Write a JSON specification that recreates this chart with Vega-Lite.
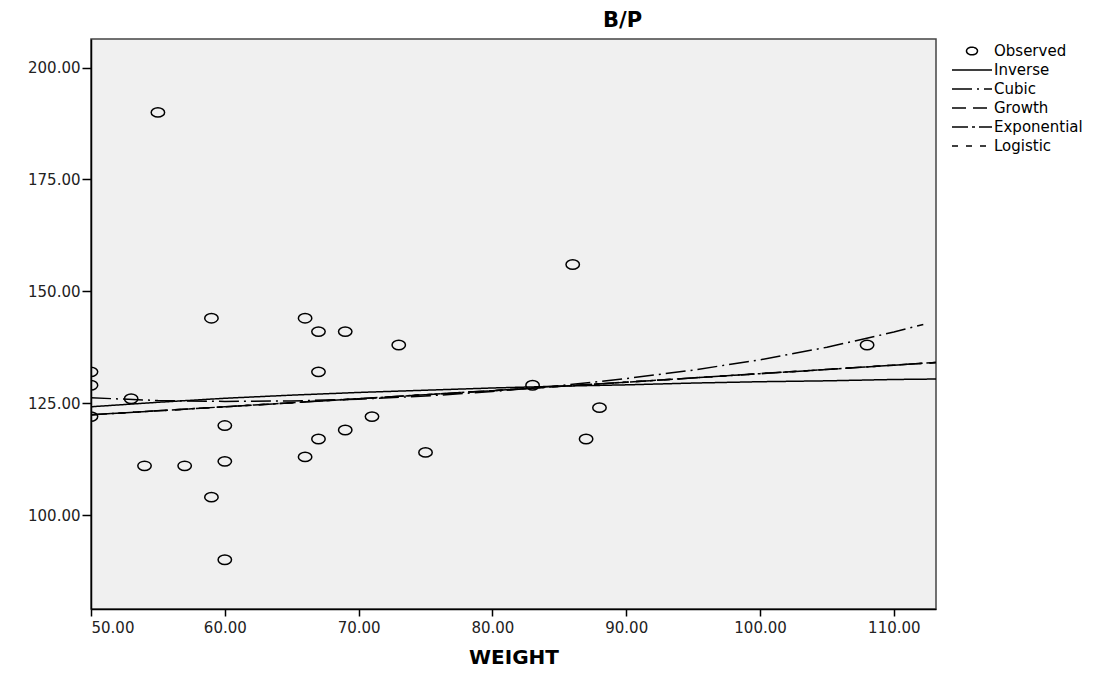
{
  "$schema": "https://vega.github.io/schema/vega-lite/v6.json",
  "autosize": "none",
  "width": 845,
  "height": 570,
  "padding": {"left": 91, "top": 39, "right": 177, "bottom": 64},
  "background": "white",
  "title": {"text": "B/P", "fontSize": 21, "fontWeight": "bold", "font": "DejaVu Sans", "color": "black", "anchor": "middle", "dx": 109, "offset": 8},
  "config": {
    "view": {"fill": "#F0F0F0", "stroke": "#444444", "strokeWidth": 1.5},
    "axis": {"grid": false, "domainColor": "black", "domainWidth": 1.5, "tickColor": "black", "tickWidth": 1.5, "labelFont": "DejaVu Sans", "labelFontSize": 15, "labelColor": "#222222", "titleFont": "DejaVu Sans"}
  },
  "datasets": {
    "obs": [
      {"weight": 50, "bp": 132}, {"weight": 50, "bp": 129}, {"weight": 50, "bp": 122},
      {"weight": 53, "bp": 126}, {"weight": 54, "bp": 111}, {"weight": 55, "bp": 190},
      {"weight": 57, "bp": 111}, {"weight": 59, "bp": 144}, {"weight": 59, "bp": 104},
      {"weight": 60, "bp": 120}, {"weight": 60, "bp": 112}, {"weight": 60, "bp": 90},
      {"weight": 66, "bp": 144}, {"weight": 66, "bp": 113}, {"weight": 67, "bp": 141},
      {"weight": 67, "bp": 132}, {"weight": 67, "bp": 117}, {"weight": 69, "bp": 141},
      {"weight": 69, "bp": 119}, {"weight": 71, "bp": 122}, {"weight": 73, "bp": 138},
      {"weight": 75, "bp": 114}, {"weight": 83, "bp": 129}, {"weight": 86, "bp": 156},
      {"weight": 87, "bp": 117}, {"weight": 88, "bp": 124}, {"weight": 108, "bp": 138}
    ],
    "fits": [
      {"series": "Inverse", "weight": 50, "bp": 124.2}, {"series": "Inverse", "weight": 55, "bp": 125.2}, {"series": "Inverse", "weight": 60, "bp": 126.1}, {"series": "Inverse", "weight": 65, "bp": 126.8}, {"series": "Inverse", "weight": 70, "bp": 127.4}, {"series": "Inverse", "weight": 75, "bp": 127.9}, {"series": "Inverse", "weight": 80, "bp": 128.4}, {"series": "Inverse", "weight": 85, "bp": 128.8}, {"series": "Inverse", "weight": 90, "bp": 129.1}, {"series": "Inverse", "weight": 95, "bp": 129.5}, {"series": "Inverse", "weight": 100, "bp": 129.8}, {"series": "Inverse", "weight": 105, "bp": 130.0}, {"series": "Inverse", "weight": 110, "bp": 130.3}, {"series": "Inverse", "weight": 113.15, "bp": 130.4},
      {"series": "Cubic", "weight": 50, "bp": 126.2}, {"series": "Cubic", "weight": 55, "bp": 125.6}, {"series": "Cubic", "weight": 60, "bp": 125.4}, {"series": "Cubic", "weight": 65, "bp": 125.5}, {"series": "Cubic", "weight": 70, "bp": 125.9}, {"series": "Cubic", "weight": 75, "bp": 126.6}, {"series": "Cubic", "weight": 80, "bp": 127.6}, {"series": "Cubic", "weight": 85, "bp": 128.9}, {"series": "Cubic", "weight": 90, "bp": 130.5}, {"series": "Cubic", "weight": 95, "bp": 132.4}, {"series": "Cubic", "weight": 100, "bp": 134.7}, {"series": "Cubic", "weight": 105, "bp": 137.5}, {"series": "Cubic", "weight": 110, "bp": 140.9}, {"series": "Cubic", "weight": 112.2, "bp": 142.6},
      {"series": "Growth", "weight": 50, "bp": 122.4}, {"series": "Growth", "weight": 60, "bp": 124.2}, {"series": "Growth", "weight": 70, "bp": 126.0}, {"series": "Growth", "weight": 80, "bp": 127.8}, {"series": "Growth", "weight": 90, "bp": 129.7}, {"series": "Growth", "weight": 100, "bp": 131.6}, {"series": "Growth", "weight": 110, "bp": 133.5}, {"series": "Growth", "weight": 113.15, "bp": 134.1},
      {"series": "Exponential", "weight": 50, "bp": 122.4}, {"series": "Exponential", "weight": 60, "bp": 124.2}, {"series": "Exponential", "weight": 70, "bp": 126.0}, {"series": "Exponential", "weight": 80, "bp": 127.8}, {"series": "Exponential", "weight": 90, "bp": 129.7}, {"series": "Exponential", "weight": 100, "bp": 131.6}, {"series": "Exponential", "weight": 110, "bp": 133.5}, {"series": "Exponential", "weight": 113.15, "bp": 134.1},
      {"series": "Logistic", "weight": 50, "bp": 122.4}, {"series": "Logistic", "weight": 60, "bp": 124.2}, {"series": "Logistic", "weight": 70, "bp": 126.0}, {"series": "Logistic", "weight": 80, "bp": 127.8}, {"series": "Logistic", "weight": 90, "bp": 129.7}, {"series": "Logistic", "weight": 100, "bp": 131.6}, {"series": "Logistic", "weight": 110, "bp": 133.5}, {"series": "Logistic", "weight": 113.15, "bp": 134.1}
    ]
  },
  "encoding": {
    "x": {"field": "weight", "type": "quantitative", "scale": {"domain": [50, 113.15], "nice": false, "zero": false},
      "axis": {"values": [50, 60, 70, 80, 90, 100, 110], "format": ".2f", "tickSize": 7, "labelPadding": 4, "title": "WEIGHT", "titleFontSize": 20, "titleFontWeight": "bold", "titleColor": "black", "titlePadding": 12}},
    "y": {"field": "bp", "type": "quantitative", "scale": {"domain": [79, 206.4], "nice": false, "zero": false},
      "axis": {"values": [100, 125, 150, 175, 200], "format": ".2f", "tickSize": 9, "labelPadding": 2, "title": null}}
  },
  "layer": [
    {
      "data": {"name": "fits"},
      "mark": {"type": "line", "stroke": "black", "strokeWidth": 1.5, "clip": true},
      "encoding": {
        "strokeDash": {"field": "series", "type": "nominal",
          "scale": {"domain": ["Observed", "Inverse", "Cubic", "Growth", "Exponential", "Logistic"],
                    "range": [[1, 0], [1, 0], [20, 5, 2, 5], [14, 7], [16, 4, 3, 4], [6, 8]]},
          "legend": {"title": null, "orient": "none", "legendX": 870, "legendY": 1, "padding": 0,
            "symbolSize": 400, "symbolStrokeColor": "black", "symbolStrokeWidth": 1.5, "symbolFillColor": "transparent",
            "labelFont": "DejaVu Sans", "labelFontSize": 15, "labelColor": "black", "labelOffset": 11, "rowPadding": 0,
            "encode": {"symbols": {"update": {
              "shape": {"signal": "datum.value === 'Observed' ? 'M-1,0A1,0.7 0 1,1 1,0A1,0.7 0 1,1 -1,0Z' : 'M-2,0H2'"},
              "size": {"signal": "datum.value === 'Observed' ? 120 : 400"}
            }}}}
        }
      }
    },
    {
      "data": {"name": "obs"},
      "mark": {"type": "point", "shape": "M-1,0A1,0.7 0 1,1 1,0A1,0.7 0 1,1 -1,0Z", "size": 180, "filled": false, "stroke": "black", "strokeWidth": 1.5, "opacity": 1, "clip": true}
    }
  ]
}
